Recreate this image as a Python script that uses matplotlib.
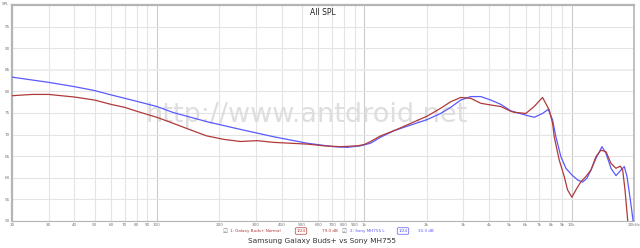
import matplotlib
matplotlib.use("Agg")
import matplotlib.pyplot as plt
from matplotlib.ticker import FixedLocator, NullLocator

# Galaxy Buds+ (rot)
buds_f = [20, 25, 30, 40, 50, 60, 70, 80, 100, 120, 145, 174, 210, 253, 304, 366, 441, 531,
          638, 768, 925, 1000, 1073, 1199, 1390, 1674, 2016, 2337, 2611, 2920, 3264, 3648,
          4077, 4556, 5093, 5284, 6016, 6600, 7242, 7800, 8097, 8246, 8718, 9214, 9562,
          10034, 10490, 11092, 11726, 12400, 13108, 13856, 14648, 15488, 16372, 17180,
          17636, 18098, 18642, 19000, 20000]
buds_db = [79.0, 79.3, 79.3, 78.7, 78.0, 77.0, 76.3, 75.4, 74.0, 72.6, 71.1, 69.7, 68.9, 68.4,
           68.6, 68.2, 68.0, 67.8, 67.4, 67.2, 67.4, 67.7, 68.4, 69.7, 70.9, 72.6, 74.3, 76.1,
           77.6, 78.6, 78.4, 77.25, 76.85, 76.5, 75.4, 75.15, 74.9, 76.5, 78.6, 75.7, 72.6,
           69.5, 64.1, 60.3, 57.2, 55.5, 57.2, 59.1, 60.3, 61.8, 64.9, 66.4, 66.05, 63.35,
           62.2, 62.7, 61.8, 57.2, 50.2, 45.0, 45.0]

# Sony MH755 (blau)
sony_f = [20, 30, 40, 50, 60, 70, 80, 100, 120, 174, 253, 366, 531, 713, 828, 960, 1073, 1199,
          1390, 1674, 2016, 2337, 2611, 2920, 3264, 3648, 4077, 4556, 5093, 6016, 6600, 7242,
          7710, 8097, 8400, 8880, 9388, 10034, 10690, 11300, 11858, 12400, 13108, 14010,
          14648, 15488, 16372, 17310, 17964, 18504, 19204, 19780, 20000]
sony_db = [83.3, 82.1, 81.1, 80.2, 79.2, 78.4, 77.7, 76.5, 75.1, 73.0, 71.2, 69.5, 68.0, 67.2,
           67.05, 67.4, 68.0, 69.4, 70.9, 72.2, 73.5, 74.9, 76.3, 78.0, 78.8, 78.8, 78.0, 77.0,
           75.5, 74.5, 74.0, 74.9, 75.85, 73.4, 69.5, 64.9, 62.2, 60.65, 59.5, 59.0, 59.9,
           61.8, 64.5, 67.2, 65.7, 62.2, 60.5, 61.8, 62.6, 60.3, 54.9, 50.2, 47.0]

xticks = [20, 30, 40, 50, 60, 70, 80, 90, 100, 200, 300, 400, 500, 600, 700, 800, 900,
          1000, 2000, 3000, 4000, 5000, 6000, 7000, 8000, 9000, 10000, 20000]
xlabels = ["20", "30", "40", "50", "60", "70", "80", "90", "100", "200", "300", "400", "500",
           "600", "700", "800", "900", "1k", "2k", "3k", "4k", "5k", "6k", "7k", "8k", "9k",
           "10k", "20kHz"]
yticks = [50, 55, 60, 65, 70, 75, 80, 85, 90, 95]

RED, BLUE = "#b03a3a", "#5a5aff"

fig = plt.figure(figsize=(6.4, 2.48), dpi=100)
ax = fig.add_axes([12/640, 27/248, 622/640, 216/248])
ax.set_xscale("log")
ax.set_xlim(20, 20000); ax.set_ylim(50, 100)

for t in xticks:
    c = "#cbcbcb" if t in (100, 1000, 10000) else "#e4e4e4"
    ax.axvline(t, color=c, lw=0.8, zorder=0)
for t in yticks:
    ax.axhline(t, color="#e4e4e4" if t != 85 else "#ececec", lw=0.8 if t != 85 else 1.3, zorder=0)

ax.text(0.474, 0.49, "http://www.antdroid.net", transform=ax.transAxes, ha="center", va="center",
        fontsize=19.5, color="#dedede", zorder=1)

ax.plot(sony_f, sony_db, color=BLUE, lw=0.9, zorder=3, clip_on=True)
ax.plot(buds_f, buds_db, color=RED, lw=0.9, zorder=4, clip_on=True)

ax.xaxis.set_major_locator(FixedLocator(xticks)); ax.xaxis.set_minor_locator(NullLocator())
ax.set_xticklabels(xlabels)
ax.set_yticks(yticks)
ax.tick_params(labelsize=3, colors="#777777", length=0, pad=1.5)
for s in ax.spines.values():
    s.set_color("#b5b5b5")
ax.spines["top"].set_linewidth(1.6); ax.spines["left"].set_linewidth(1.6)
ax.spines["right"].set_linewidth(1.2); ax.spines["bottom"].set_linewidth(0.8)
fig.text(5/640, 1 - 4/248, "SPL", fontsize=3, color="#777777", ha="center", va="center")

ax.text(0.5, 0.985, "All SPL", transform=ax.transAxes, ha="center", va="top", fontsize=5.5, color="#222222")

# Legende unten
ly = 1 - 231/248
fig.text(225/640, ly, "\u2611", fontsize=4, color="#777777", ha="center", va="center",
         family=["DejaVu Sans"])
fig.text(230/640, ly, "1: Galaxy Buds+ Normal", fontsize=3, color=RED, va="center")
fig.text(301/640, ly, "1/24", fontsize=3, color=RED, ha="center", va="center",
         bbox=dict(boxstyle="round,pad=0.3", fc="white", ec=RED, lw=0.5))
fig.text(322/640, ly, "79.0 dB", fontsize=3, color=RED, va="center")
fig.text(344/640, ly, "\u2611", fontsize=4, color="#777777", ha="center", va="center",
         family=["DejaVu Sans"])
fig.text(350/640, ly, "2: Sony MH755 L", fontsize=3, color=BLUE, va="center")
fig.text(403/640, ly, "1/24", fontsize=3, color=BLUE, ha="center", va="center",
         bbox=dict(boxstyle="round,pad=0.3", fc="white", ec=BLUE, lw=0.5))
fig.text(418/640, ly, "10.3 dB", fontsize=3, color=BLUE, va="center")

fig.text(322/640, 1 - 241/248, "Samsung Galaxy Buds+ vs Sony MH755", fontsize=5.3,
         color="#333333", ha="center", va="center")

fig.savefig("out.png", dpi=100)
